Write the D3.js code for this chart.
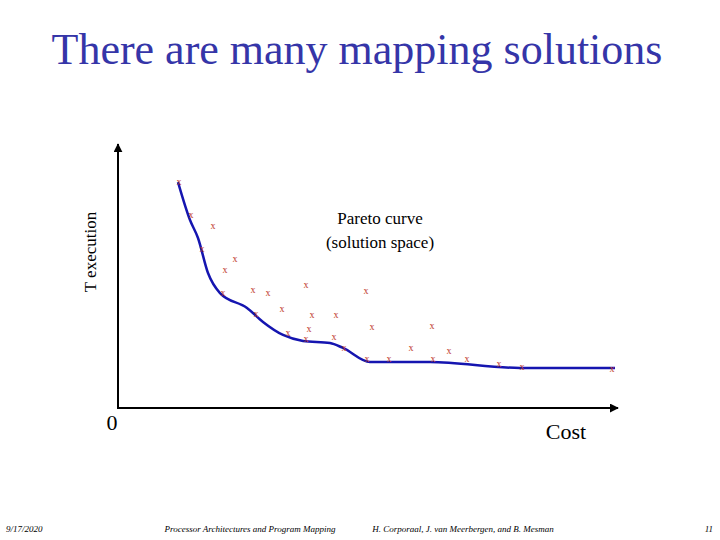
<!DOCTYPE html><html><head><meta charset="utf-8"><script src="https://cdn.jsdelivr.net/npm/d3@7"></script>
<style>body{margin:0;background:#fff}</style></head><body><svg id="c" width="720" height="540"></svg><script>
const pointCost=[12.2,14.6,19,16.8,23.4,21.4,21,27,30,37.6,49.6,32.8,27.6,38.8,43.6,38.2,50.8,62.8,34,37.6,43.2,45.2,58.6,66.2,49.8,54.2,63,69.8,76.2,80.8,98.8];
const pointTime=[86.9,74.2,70,61.2,57.3,53.1,44.2,45.4,44.2,47.3,45,38.1,36.2,35.8,35.8,30.4,31.2,31.5,28.8,26.5,27.3,23.1,23.1,21.9,18.8,18.8,18.8,18.8,16.9,15.8,15];
const curveCost=[12,14.4,16,18,20.4,25.8,29,33,37,42.4,45,50.4,62.4,80.4,99.4];
const curveTime=[86.9,72.3,65.4,51.9,44.2,38.5,33.1,28.1,25.8,25,23.1,17.7,17.7,15.4,15.4];
const svg=d3.select("#c");
const x=d3.scaleLinear().domain([0,100]).range([118,618]);
const y=d3.scaleLinear().domain([0,100]).range([408,148]);
const ser="'Liberation Serif', 'DejaVu Serif', serif";
svg.append("text").attr("x",357).attr("y",64).attr("text-anchor","middle").attr("font-family",ser).attr("font-size",44).attr("fill","#3535a8").text("There are many mapping solutions");
const defs=svg.append("defs");
defs.append("marker").attr("id","ar").attr("viewBox","0 0 10 10").attr("refX",9).attr("refY",5).attr("markerWidth",9).attr("markerHeight",9).attr("markerUnits","userSpaceOnUse").attr("orient","auto").append("path").attr("d","M0,0L10,5L0,10z").attr("fill","#000");
svg.append("line").attr("x1",x(0)).attr("y1",y(0)+1).attr("x2",x(0)).attr("y2",y(101.5)).attr("stroke","#000").attr("stroke-width",2).attr("marker-end","url(#ar)");
svg.append("line").attr("x1",x(0)-1).attr("y1",y(0)).attr("x2",x(100)).attr("y2",y(0)).attr("stroke","#000").attr("stroke-width",2).attr("marker-end","url(#ar)");
const line=d3.line().x(d=>x(d[0])).y(d=>y(d[1])).curve(d3.curveMonotoneX);
svg.append("path").attr("d",line(curveCost.map((c,i)=>[c,curveTime[i]]))).attr("fill","none").attr("stroke","#1515b0").attr("stroke-width",2.5);
svg.selectAll(".p").data(pointCost).enter().append("text").attr("x",(d)=>x(d)).attr("y",(d,i)=>y(pointTime[i])+3).attr("text-anchor","middle").attr("font-family",ser).attr("font-size",10).attr("fill","#c0392b").text("x");
svg.append("text").attr("x",380).attr("y",224).attr("text-anchor","middle").attr("font-family",ser).attr("font-size",17).text("Pareto curve");
svg.append("text").attr("x",380).attr("y",248).attr("text-anchor","middle").attr("font-family",ser).attr("font-size",17).text("(solution space)");
svg.append("text").attr("transform","translate(96,252) rotate(-90)").attr("text-anchor","middle").attr("font-family",ser).attr("font-size",17).text("T execution");
svg.append("text").attr("x",112).attr("y",430).attr("text-anchor","middle").attr("font-family",ser).attr("font-size",22).text("0");
svg.append("text").attr("x",566).attr("y",439).attr("text-anchor","middle").attr("font-family",ser).attr("font-size",22).text("Cost");
const f=(t,xx,a)=>svg.append("text").attr("x",xx).attr("y",532).attr("text-anchor",a).attr("font-family",ser).attr("font-style","italic").attr("font-size",9).text(t);
f("9/17/2020",6,"start");f("Processor Architectures and Program Mapping",250,"middle");f("H. Corporaal,  J. van Meerbergen, and B. Mesman",463,"middle");f("11",713,"end");
</script></body></html>
